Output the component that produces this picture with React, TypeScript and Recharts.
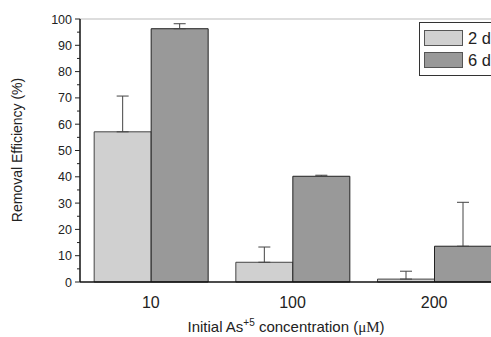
import React from 'react';
import { BarChart, Bar, XAxis, YAxis, ErrorBar, ReferenceLine, Legend } from 'recharts';

const categories = ['10', '100', '200'];
const twoDay = [57.1, 7.5, 1.1];
const sixDay = [96.3, 40.2, 13.6];
const twoDayErr = [13.6, 5.8, 3.0];
const sixDayErr = [1.9, 0.4, 16.7];
const yTicks = [0, 5, 10, 15, 20, 25, 30, 35, 40, 45, 50, 55, 60, 65, 70, 75, 80, 85, 90, 95, 100];

const data = categories.map((c, i) => ({
  name: c,
  d2: twoDay[i],
  d6: sixDay[i],
  e2: [0, twoDayErr[i]],
  e6: [0, sixDayErr[i]],
}));

const FONT = '"Liberation Sans", Arial, sans-serif';

const YTick = ({ x, y, payload }: any) => {
  const major = payload.value % 10 === 0;
  const axisX = x + 8;
  return (
    <g>
      <line x1={axisX - (major ? 5 : 3)} x2={axisX} y1={y} y2={y} stroke="#222" strokeWidth={1} />
      {major && (
        <text x={x} y={y} dy={4.5} textAnchor="end" fontSize={12.5} fill="#222" fontFamily={FONT}>
          {payload.value}
        </text>
      )}
    </g>
  );
};

const XTick = ({ x, y, payload }: any) => (
  <text x={x} y={y + 18} textAnchor="middle" fontSize={16} fill="#222" fontFamily={FONT}>
    {payload.value}
  </text>
);

// x axis title with the superscript charge on As
const XLabel = () => (
  <text x={286} y={332} textAnchor="middle" fontSize={15} fill="#222" fontFamily={FONT}>
    <tspan>Initial As</tspan>
    <tspan dy={-6} fontSize={10}>+5</tspan>
    <tspan dy={6}> concentration (</tspan>
    <tspan fontFamily='"Liberation Serif", "Times New Roman", serif'>μM</tspan>
    <tspan>)</tspan>
  </text>
);

const YLabel = () => (
  <text x={22} y={150} textAnchor="middle" fontSize={14} fill="#222" fontFamily={FONT} transform="rotate(-90 22 150)">
    Removal Efficiency (%)
  </text>
);

const LegendBox = ({ payload }: any) => (
  <div style={{ border: '1px solid #333', background: '#fff', padding: '4px 0 4px 4px', width: 90, boxSizing: 'border-box' }}>
    {payload.map((p: any) => (
      <div key={p.value} style={{ display: 'flex', alignItems: 'center', height: 22 }}>
        <span style={{ width: 37, height: 14, background: p.color, border: '1px solid #555', display: 'inline-block' }} />
        <span style={{ marginLeft: 5, fontSize: 16.5, fontFamily: FONT, color: '#222' }}>{p.value}</span>
      </div>
    ))}
  </div>
);

export default function App() {
  return (
    <div style={{ position: 'absolute', left: 0, top: 0, width: 491, height: 337, overflow: 'hidden', background: '#fff' }}>
      <BarChart
        width={505}
        height={337}
        data={data}
        margin={{ top: 19, right: 0, bottom: 0, left: 0 }}
        barCategoryGap="10%"
        barGap={0}
      >
        <XAxis
          dataKey="name"
          height={55}
          axisLine={{ stroke: '#111', strokeWidth: 1.5 }}
          tickLine={false}
          tick={<XTick />}
          label={<XLabel />}
        />
        <YAxis
          width={80}
          domain={[0, 100]}
          ticks={yTicks}
          interval={0}
          axisLine={{ stroke: '#111', strokeWidth: 1.5 }}
          tickLine={false}
          tick={<YTick />}
          label={<YLabel />}
        />
        <ReferenceLine y={100} stroke="#bbb" strokeWidth={1} />
        <Legend
          layout="vertical"
          verticalAlign="middle"
          align="center"
          wrapperStyle={{ left: 419, top: 22, width: 100 }}
          content={<LegendBox />}
        />
        <Bar dataKey="d2" name="2 d" fill="#d0d0d0" stroke="#444" strokeWidth={1} isAnimationActive={false}>
          <ErrorBar dataKey="e2" width={6} stroke="#444" strokeWidth={1} direction="y" />
        </Bar>
        <Bar dataKey="d6" name="6 d" fill="#999999" stroke="#222" strokeWidth={1} isAnimationActive={false}>
          <ErrorBar dataKey="e6" width={6} stroke="#444" strokeWidth={1} direction="y" />
        </Bar>
      </BarChart>
    </div>
  );
}
